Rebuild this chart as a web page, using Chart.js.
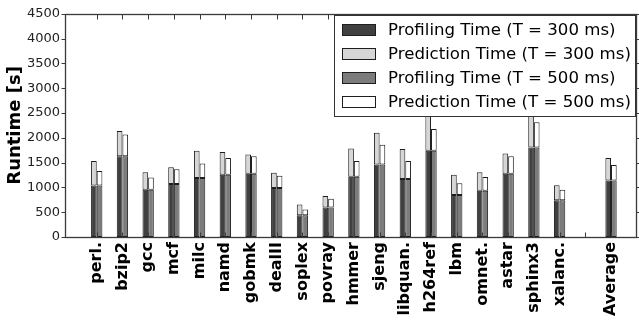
<!DOCTYPE html>
<html>
<head>
<meta charset="utf-8">
<script src="https://cdn.jsdelivr.net/npm/chart.js@4/dist/chart.umd.min.js"></script>
<style>
  html, body { margin: 0; padding: 0; background: #fff; }
  canvas { display: block; }
</style>
</head>
<body>
<canvas id="c" width="639" height="321"></canvas>
<script>
// Benchmarks (empty slot separates the suite from the average)
const categories = ['perl.', 'bzip2', 'gcc', 'mcf', 'milc', 'namd', 'gobmk', 'dealII', 'soplex', 'povray',
  'hmmer', 'sjeng', 'libquan.', 'h264ref', 'lbm', 'omnet.', 'astar', 'sphinx3', 'xalanc.', '', 'Average'];

// Runtime in seconds
const profiling300  = [1036, 1628, 951, 1070, 1188, 1253, 1273, 990, 438, 596, 1214, 1464, 1168, 1741, 845, 931, 1273, 1806, 740, null, 1141];
const prediction300 = [494, 507, 355, 335, 553, 460, 388, 303, 217, 233, 572, 638, 605, 759, 408, 375, 408, 794, 302, null, 454];
const profiling500  = [1036, 1628, 951, 1070, 1188, 1253, 1273, 990, 438, 596, 1214, 1464, 1168, 1741, 845, 931, 1273, 1806, 740, null, 1141];
const prediction500 = [296, 441, 249, 295, 296, 342, 355, 243, 118, 177, 316, 395, 362, 434, 237, 277, 355, 507, 211, null, 310];

const yTicks = [0, 500, 1000, 1500, 2000, 2500, 3000, 3500, 4000, 4500];

const FONT = "'DejaVu Sans', 'Liberation Sans', sans-serif";
const EDGE = '#1e1e1e';
const toPoints = arr => arr.map((v, i) => ({ x: i, y: v }));

// Axes box with tick marks (y ticks outward, x ticks inward)
const framePlugin = {
  id: 'frame',
  afterDatasetsDraw(chart) {
    const { ctx, chartArea: a, scales: { x, y } } = chart;
    const L = Math.round(a.left) - 0.5, R = Math.round(a.right) - 0.5;
    const T = Math.round(a.top) + 0.5, B = Math.round(a.bottom) + 0.5;
    ctx.save();
    ctx.strokeStyle = '#3a3a3a';
    ctx.lineWidth = 1.3;
    ctx.strokeRect(L, T, R - L, B - T);
    ctx.lineWidth = 1;
    ctx.beginPath();
    yTicks.forEach(v => {
      const py = Math.round(y.getPixelForValue(v)) + 0.5;
      ctx.moveTo(L - 4, py); ctx.lineTo(L, py);
      ctx.moveTo(R, py); ctx.lineTo(R + 4, py);
    });
    categories.forEach((c, i) => {
      const px = Math.round(x.getPixelForValue(i)) + 0.5;
      ctx.moveTo(px, T); ctx.lineTo(px, T + 5);
      ctx.moveTo(px, B); ctx.lineTo(px, B - 5);
    });
    ctx.stroke();
    ctx.restore();
  }
};

// Framed legend in the upper right of the plot
const legendPlugin = {
  id: 'boxLegend',
  afterDraw(chart) {
    const { ctx, chartArea: a } = chart;
    const boxR = a.right - 1.5, boxL = 334.5, boxT = 15.5, boxB = 116.5;
    ctx.save();
    ctx.fillStyle = '#fff';
    ctx.fillRect(boxL, boxT, boxR - boxL, boxB - boxT);
    ctx.strokeStyle = '#333';
    ctx.lineWidth = 1;
    ctx.strokeRect(boxL, boxT, boxR - boxL, boxB - boxT);
    ctx.font = '16.6px ' + FONT;
    ctx.textBaseline = 'middle';
    ctx.textAlign = 'left';
    chart.data.datasets.forEach((ds, i) => {
      const cy = 30 + i * 24;
      ctx.fillStyle = ds.backgroundColor;
      ctx.fillRect(342.5, cy - 5.5, 33, 11);
      ctx.strokeStyle = EDGE;
      ctx.strokeRect(342.5, cy - 5.5, 33, 11);
      ctx.fillStyle = '#000';
      ctx.fillText(ds.label, 388, cy + 1);
    });
    ctx.restore();
  }
};

const barStyle = { borderColor: EDGE, borderWidth: 1, borderSkipped: false,
  barPercentage: 1.0, categoryPercentage: 0.44 };

new Chart(document.getElementById('c'), {
  type: 'bar',
  data: {
    datasets: [
      { label: 'Profiling Time (T = 300 ms)',  data: toPoints(profiling300),  stack: 't300', backgroundColor: '#404040', ...barStyle },
      { label: 'Prediction Time (T = 300 ms)', data: toPoints(prediction300), stack: 't300', backgroundColor: '#d6d6d6', ...barStyle },
      { label: 'Profiling Time (T = 500 ms)',  data: toPoints(profiling500),  stack: 't500', backgroundColor: '#7c7c7c', ...barStyle },
      { label: 'Prediction Time (T = 500 ms)', data: toPoints(prediction500), stack: 't500', backgroundColor: '#ffffff', ...barStyle }
    ]
  },
  options: {
    responsive: false,
    devicePixelRatio: 1,
    animation: false,
    layout: { padding: { left: 0, top: 9, right: 2, bottom: 0 } },
    plugins: { legend: { display: false }, tooltip: { enabled: false } },
    scales: {
      x: {
        type: 'linear',
        min: -1.195,
        max: 21.01,
        offset: false,
        grid: { display: false, drawTicks: false },
        border: { display: false },
        afterBuildTicks: s => { s.ticks = categories.map((c, i) => ({ value: i })); },
        afterFit: s => { s.height = 84; },
        ticks: {
          autoSkip: false,
          minRotation: 90,
          maxRotation: 90,
          padding: 5,
          color: '#000',
          font: { family: FONT, size: 16, weight: 'bold' },
          callback: v => categories[v] ?? ''
        }
      },
      y: {
        stacked: true,
        min: 0,
        max: 4500,
        grid: { display: false, drawTicks: false },
        border: { display: false },
        afterFit: s => { s.width = 66; },
        ticks: {
          stepSize: 500,
          padding: 6,
          color: '#222',
          font: { family: FONT, size: 13 },
          callback: v => String(v)
        },
        title: {
          display: true,
          text: 'Runtime [s]',
          color: '#000',
          font: { family: FONT, size: 18, weight: 'bold' },
          padding: { top: 5, bottom: 0 }
        }
      }
    }
  },
  plugins: [framePlugin, legendPlugin]
});
</script>
</body>
</html>
